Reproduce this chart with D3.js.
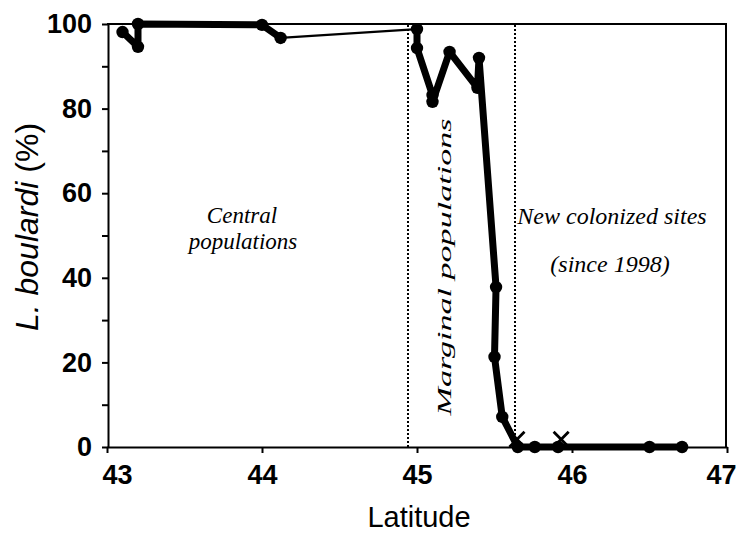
<!DOCTYPE html>
<html>
<head>
<meta charset="utf-8">
<script src="https://cdn.jsdelivr.net/npm/d3@7"></script>
<style>
  body { margin: 0; background: #fff; }
  svg { display: block; }
</style>
</head>
<body>
<div id="chart"></div>
<script>
// sites sorted along the transect (latitude, % L. boulardi)
const latitude = [43.10, 43.20, 43.20, 44.00, 44.12, 45.00, 45.00, 45.10, 45.10, 45.21,
                  45.39, 45.40, 45.51, 45.50, 45.55, 45.65, 45.76, 45.91, 46.50, 46.71];
const boulardi = [98.1, 94.6, 100, 99.8, 96.7, 98.8, 94.3, 83.2, 81.6, 93.4,
                  84.9, 92.0, 37.8, 21.3, 7.1, 0, 0, 0, 0, 0];

// sites where L. boulardi was not found (crosses)
const absentLat = [45.645, 45.93];
const absentPct = [1.8, 1.8];

const xTicks = [43, 44, 45, 46, 47];
const yTicks = [0, 10, 20, 30, 40, 50, 60, 70, 80, 90, 100];
const zoneBounds = [44.94, 45.63];
const bridgeAfter = 4; // thin segment joins site 4 to site 5

const width = 741, height = 536;

const svg = d3.select("#chart").append("svg")
    .attr("width", width)
    .attr("height", height);

const x = d3.scaleLinear().domain([43, 47]).range([107, 727]);
const y = d3.scaleLinear().domain([0, 100]).range([447, 24]);

const sans = "'Liberation Sans', Arial, sans-serif";
const serif = "'Liberation Serif', 'Times New Roman', serif";

// x axis
const xAxis = svg.append("g")
    .attr("transform", `translate(0,${y(0)})`)
    .call(d3.axisBottom(x).tickValues(xTicks).tickSize(6).tickSizeOuter(0).tickPadding(12)
        .tickFormat(d3.format("d")));
xAxis.selectAll("text")
    .attr("font-family", sans)
    .attr("font-weight", "bold")
    .attr("font-size", 27)
    .attr("dx", (d, i) => i === 0 ? 10 : (i === xTicks.length - 1 ? -6 : 0));

// y axis
const yAxis = svg.append("g")
    .attr("transform", `translate(${x(43) + 1},0)`)
    .call(d3.axisLeft(y).tickValues(yTicks).tickSize(6).tickSizeOuter(0).tickPadding(10)
        .tickFormat(d => d % 20 === 0 ? d : ""));
yAxis.selectAll("text")
    .attr("font-family", sans)
    .attr("font-weight", "bold")
    .attr("font-size", 27);

svg.selectAll(".domain, .tick line")
    .attr("stroke", "#000")
    .attr("stroke-width", 2);

// frame top and right
svg.append("line")
    .attr("x1", x(43)).attr("x2", x(47))
    .attr("y1", y(100)).attr("y2", y(100))
    .attr("stroke", "#000").attr("stroke-width", 2);
svg.append("line")
    .attr("x1", x(47) - 1).attr("x2", x(47) - 1)
    .attr("y1", y(100)).attr("y2", y(0))
    .attr("stroke", "#000").attr("stroke-width", 2);

// zone boundaries
svg.selectAll(".zone")
    .data(zoneBounds)
    .enter().append("line")
    .attr("class", "zone")
    .attr("x1", d => Math.round(x(d))).attr("x2", d => Math.round(x(d)))
    .attr("y1", y(0)).attr("y2", y(100))
    .attr("stroke", "#000")
    .attr("stroke-width", 2)
    .attr("stroke-dasharray", "2,2")
    .attr("shape-rendering", "crispEdges");

const sites = latitude.map((d, i) => ({ lat: d, pct: boulardi[i] }));

const line = d3.line()
    .x(d => x(d.lat))
    .y(d => y(d.pct));

svg.append("path")
    .datum(sites.slice(bridgeAfter, bridgeAfter + 2))
    .attr("d", line)
    .attr("fill", "none")
    .attr("stroke", "#000")
    .attr("stroke-width", 2.2);

[sites.slice(0, bridgeAfter + 1), sites.slice(bridgeAfter + 1)].forEach(part => {
    svg.append("path")
        .datum(part)
        .attr("d", line)
        .attr("fill", "none")
        .attr("stroke", "#000")
        .attr("stroke-width", 7)
        .attr("stroke-linejoin", "round");
});

svg.selectAll(".site")
    .data(sites)
    .enter().append("circle")
    .attr("class", "site")
    .attr("cx", d => x(d.lat))
    .attr("cy", d => y(d.pct))
    .attr("r", 6.2)
    .attr("fill", "#000");

svg.selectAll(".absent")
    .data(absentLat.map((d, i) => ({ lat: d, pct: absentPct[i] })))
    .enter().append("path")
    .attr("class", "absent")
    .attr("transform", d => `translate(${x(d.lat)},${y(d.pct)})`)
    .attr("d", d3.symbol(d3.symbolX, 150))
    .attr("fill", "none")
    .attr("stroke", "#000")
    .attr("stroke-width", 2.8);

// axis titles
svg.append("text")
    .attr("x", 419)
    .attr("y", 527)
    .attr("text-anchor", "middle")
    .attr("font-family", sans)
    .attr("font-size", 29)
    .text("Latitude");

const yTitle = svg.append("text")
    .attr("transform", "translate(38,227) rotate(-90)")
    .attr("text-anchor", "middle")
    .attr("font-family", sans)
    .attr("font-size", 32);
yTitle.append("tspan").attr("font-style", "italic").text("L. boulardi");
yTitle.append("tspan").text(" (%)");

// zone labels
const zoneText = (tx, ty, str, size) => svg.append("text")
    .attr("x", tx).attr("y", ty)
    .attr("text-anchor", "middle")
    .attr("font-family", serif)
    .attr("font-style", "italic")
    .attr("font-size", size)
    .text(str);

zoneText(242, 223, "Central", 23);
zoneText(243, 249, "populations", 23);
zoneText(612, 224, "New colonized sites", 24);
zoneText(610, 272, "(since 1998)", 24);

svg.append("text")
    .attr("transform", "translate(451,267) rotate(-90)")
    .attr("text-anchor", "middle")
    .attr("font-family", serif)
    .attr("font-style", "italic")
    .attr("font-size", 19)
    .attr("textLength", 297)
    .attr("lengthAdjust", "spacingAndGlyphs")
    .text("Marginal populations");
</script>
</body>
</html>
